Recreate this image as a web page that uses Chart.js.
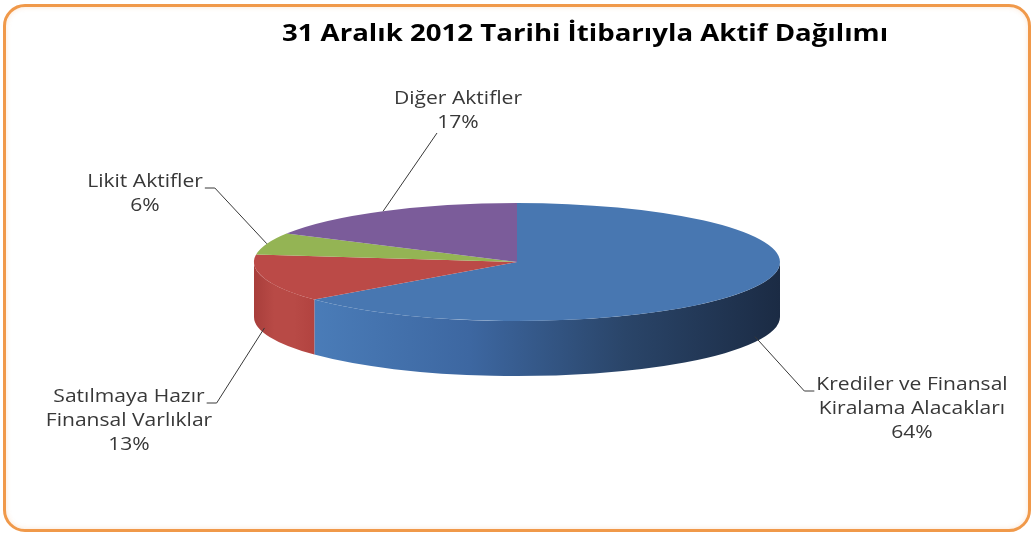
<!DOCTYPE html>
<html>
<head>
<meta charset="utf-8">
<script src="https://cdn.jsdelivr.net/npm/chart.js@4.4.1/dist/chart.umd.min.js"></script>
<style>
html, body { margin: 0; padding: 0; background: #fff; }
#wrap { position: relative; width: 1034px; height: 536px; overflow: hidden; }
#frame { position: absolute; left: 3px; top: 4px; width: 1022px; height: 522px; border: 3px solid #f0994a; border-radius: 22px; box-shadow: inset 0 0 5px rgba(240,153,74,0.25); }
canvas { position: absolute; left: 0; top: 0; }
</style>
</head>
<body>
<div id="wrap">
  <div id="frame"></div>
  <canvas id="myChart" width="1034" height="536"></canvas>
</div>
<script>
// veri
const titleText = '31 Aralık 2012 Tarihi İtibarıyla Aktif Dağılımı';
const categories = [
    ['Krediler ve Finansal', 'Kiralama Alacakları'],
    ['Satılmaya Hazır', 'Finansal Varlıklar'],
    ['Likit Aktifler'],
    ['Diğer Aktifler']
];
const shares = [64, 13, 6, 17];
const topColors = ['#4877b1', '#bb4a47', '#94b454', '#7b5c9a'];
const sideColors = [
    ['#4a7cb8', '#3d67a1', '#2a4569', '#1b2b44'],
    ['#a83e3b', '#b84a46', '#b84a46', '#b24340']
];

// yerlesim
const center = { x: 517, y: 262 };
const tilt = 59 / 263;
const depth = 55;
const labelFont = '18px "Open Sans"';
const titleFont = 'bold 23px "Open Sans"';
const titlePos = { x: 585, y: 34 };
const stretchX = 1.17; // yazilar referansta yatayda genis
const titleStretch = 1.2;
const lineH = 24;
// label box: text center x, first line center y, side of leader line
const labelPos = [
    { x: 912, y: 385, side: 'left' },
    { x: 129, y: 397, side: 'right' },
    { x: 145, y: 182, side: 'right' },
    { x: 458, y: 99, side: 'bottom' }
];

function stretchedText(ctx, t, x, y, sx) {
    ctx.save();
    ctx.translate(x, y);
    ctx.scale(sx, 1);
    ctx.fillText(t, 0, 0);
    ctx.restore();
}

const pie3d = {
    id: 'pie3d',
    beforeDatasetsDraw(chart) {
        const ctx = chart.ctx;
        const arcs = chart.getDatasetMeta(0).data;
        // yan yuzler (sadece on taraf)
        arcs.forEach(function (arc, i) {
            const a0 = Math.max(arc.startAngle, 0);
            const a1 = Math.min(arc.endAngle, Math.PI);
            if (a1 <= a0) return;
            const r = arc.outerRadius;
            ctx.beginPath();
            ctx.ellipse(center.x, center.y, r, r * tilt, 0, a0, a1);
            ctx.ellipse(center.x, center.y + depth, r, r * tilt, 0, a1, a0, true);
            ctx.closePath();
            const xl = center.x + r * Math.cos(a1), xr = center.x + r * Math.cos(a0);
            const g = ctx.createLinearGradient(xl, 0, xr, 0);
            const stops = sideColors[i] || [topColors[i], topColors[i]];
            stops.forEach(function (c, k) { g.addColorStop(k / (stops.length - 1), c); });
            ctx.fillStyle = g;
            ctx.fill();
        });
        const a = arcs[0];
        ctx.save();
        ctx.translate(center.x, center.y);
        ctx.scale(1, tilt);
        ctx.translate(-a.x, -a.y);
    },
    afterDatasetsDraw(chart) {
        const ctx = chart.ctx;
        ctx.restore();
        const arcs = chart.getDatasetMeta(0).data;
        ctx.save();
        ctx.textAlign = 'center';
        ctx.textBaseline = 'middle';
        // baslik
        ctx.font = titleFont;
        ctx.fillStyle = '#000';
        stretchedText(ctx, titleText, titlePos.x, titlePos.y, titleStretch);
        // etiketler
        ctx.font = labelFont;
        ctx.fillStyle = '#383838';
        ctx.strokeStyle = '#383838';
        ctx.lineWidth = 1;
        arcs.forEach(function (arc, i) {
            const lines = categories[i].concat([shares[i] + '%']);
            const p = labelPos[i];
            lines.forEach(function (t, k) { stretchedText(ctx, t, p.x, p.y + k * lineH, stretchX); });
            // leader line
            const mid = (arc.startAngle + arc.endAngle) / 2;
            const r = arc.outerRadius;
            let ax = center.x + r * Math.cos(mid);
            let ay = center.y + r * tilt * Math.sin(mid);
            if (Math.sin(mid) > 0) ay += depth * 0.9;
            const w = ctx.measureText(lines[0]).width * stretchX;
            let ex, ey, bx;
            if (p.side === 'left') { ex = p.x - w / 2 - 2; ey = p.y + 6; bx = ex - 10; }
            else if (p.side === 'right') { ex = p.x + w / 2 + 2; ey = p.y + 6; bx = ex + 10; }
            else { ex = p.x - 21; ey = p.y + (lines.length - 1) * lineH + 10; bx = ex; }
            ctx.beginPath();
            ctx.moveTo(ax, ay);
            ctx.lineTo(bx, ey);
            ctx.lineTo(ex, ey);
            ctx.stroke();
        });
        ctx.restore();
    }
};

const ctx = document.getElementById('myChart').getContext('2d');
const myChart = new Chart(ctx, {
    type: 'pie',
    data: {
        labels: categories,
        datasets: [{
            data: shares,
            backgroundColor: topColors,
            borderWidth: 0,
            radius: 263
        }]
    },
    options: {
        responsive: false,
        animation: false,
        events: [],
        plugins: {
            legend: { display: false },
            tooltip: { enabled: false },
            title: { display: false }
        }
    },
    plugins: [pie3d]
});
</script>
</body>
</html>
